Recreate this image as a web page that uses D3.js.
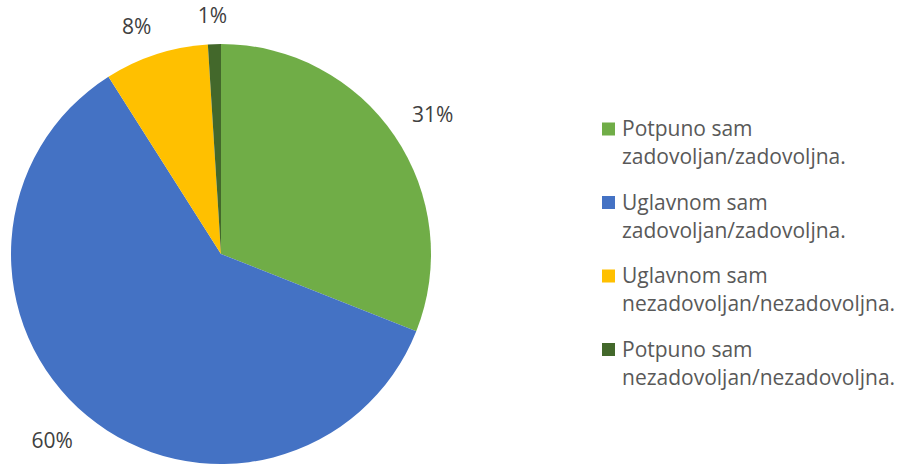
<!DOCTYPE html>
<html>
<head>
<meta charset="utf-8">
<script src="https://cdn.jsdelivr.net/npm/d3@7"></script>
<style>
  html, body { margin: 0; padding: 0; background: #ffffff; }
  svg { display: block; }
</style>
</head>
<body>
<svg id="chart" width="898" height="464"></svg>
<script>
// ---- data ----
const categories = [
  "Potpuno sam zadovoljan/zadovoljna.",
  "Uglavnom sam zadovoljan/zadovoljna.",
  "Uglavnom sam nezadovoljan/nezadovoljna.",
  "Potpuno sam nezadovoljan/nezadovoljna."
];
const legendLines = [
  ["Potpuno sam", "zadovoljan/zadovoljna."],
  ["Uglavnom sam", "zadovoljan/zadovoljna."],
  ["Uglavnom sam", "nezadovoljan/nezadovoljna."],
  ["Potpuno sam", "nezadovoljan/nezadovoljna."]
];
const values = [31, 60, 8, 1];
const labels = ["31%", "60%", "8%", "1%"];
const colors = ["#70AD47", "#4472C4", "#FFC000", "#43682B"];

// ---- layout ----
const svg = d3.select("#chart");
const cx = 221, cy = 254, r = 210;
const fontFamily = "'Open Sans', 'Noto Sans', sans-serif";

const pie = d3.pie().sort(null).value(d => d)(values);
const arc = d3.arc().innerRadius(0).outerRadius(r);

const g = svg.append("g").attr("transform", `translate(${cx},${cy})`);
g.selectAll("path.slice")
  .data(pie)
  .join("path")
  .attr("class", "slice")
  .attr("d", arc)
  .attr("fill", (d, i) => colors[i]);

// data labels placed outside end, Excel-like
const labelFont = 21;
const digitH = 15;
const gap = 16;
const clamp = v => Math.max(-1, Math.min(1, v));
const tmp = svg.append("text").attr("font-family", fontFamily).attr("font-size", labelFont);
pie.forEach((d, i) => {
  const a = (d.startAngle + d.endAngle) / 2;
  const sx = Math.sin(a), sy = -Math.cos(a);
  tmp.text(labels[i]);
  const w = tmp.node().getComputedTextLength();
  const hw = w / 2 + 4, hh = digitH / 2 + 5;
  const px = (r + gap) * sx, py = (r + gap) * sy;
  const bx = px + hw * clamp(sx * 2.5);
  const by = py + hh * clamp(sy * 2.5);
  g.append("text")
    .attr("x", bx)
    .attr("y", by + digitH / 2)
    .attr("text-anchor", "middle")
    .attr("font-family", fontFamily)
    .attr("font-size", labelFont)
    .attr("fill", "#404040")
    .text(labels[i]);
});
tmp.remove();

// legend
const legendX = 602, legendY0 = 136, itemStep = 73.5, lineStep = 28, sw = 13;
const lg = svg.append("g");
legendLines.forEach((lines, i) => {
  const y = legendY0 + i * itemStep;
  lg.append("rect")
    .attr("x", legendX).attr("y", y - 13.5)
    .attr("width", sw).attr("height", sw)
    .attr("fill", colors[i]);
  lines.forEach((t, j) => {
    lg.append("text")
      .attr("x", legendX + 20)
      .attr("y", y + j * lineStep)
      .attr("font-family", fontFamily)
      .attr("font-size", 21)
      .attr("fill", "#595959")
      .text(t);
  });
});
</script>
</body>
</html>
